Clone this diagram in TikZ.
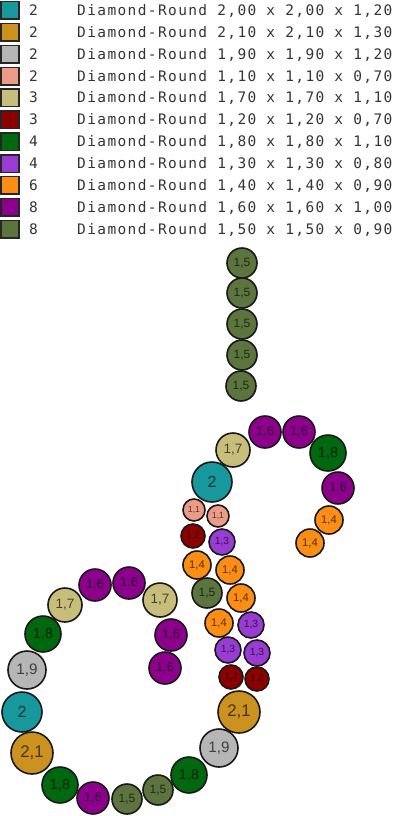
\documentclass[tikz,border=0pt]{standalone}
\usepackage{fontspec}
\usepackage{tikz}
\setmainfont{Liberation Sans}
\newfontfamily\legendfont[LetterSpace=9.5]{DejaVu Sans Mono}

\definecolor{tealc}{RGB}{22,152,156}
\definecolor{goldc}{RGB}{203,146,32}
\definecolor{greyc}{RGB}{182,182,182}
\definecolor{salmonc}{RGB}{236,156,134}
\definecolor{khakic}{RGB}{200,190,124}
\definecolor{maroonc}{RGB}{140,0,0}
\definecolor{greenc}{RGB}{0,104,14}
\definecolor{violetc}{RGB}{152,60,212}
\definecolor{orangec}{RGB}{252,142,22}
\definecolor{plumc}{RGB}{140,0,140}
\definecolor{olivec}{RGB}{92,116,62}
\definecolor{legendtext}{RGB}{52,52,52}

\tikzset{
  bead/.style={circle, draw=black!90, line width=1.6pt, inner sep=0pt, text opacity=0.65},
  s11/.style={bead, fill=salmonc, minimum size=22pt, font=\fontsize{8.8pt}{9pt}\selectfont},
  s12/.style={bead, fill=maroonc, minimum size=24pt, font=\fontsize{9.6pt}{10pt}\selectfont},
  s13/.style={bead, fill=violetc, minimum size=26pt, font=\fontsize{10.4pt}{11pt}\selectfont},
  s14/.style={bead, fill=orangec, minimum size=28pt, font=\fontsize{11.2pt}{12pt}\selectfont},
  s15/.style={bead, fill=olivec, minimum size=30pt, font=\fontsize{12pt}{13pt}\selectfont},
  s16/.style={bead, fill=plumc, minimum size=32pt, font=\fontsize{12.8pt}{13pt}\selectfont},
  s17/.style={bead, fill=khakic, minimum size=34pt, font=\fontsize{13.6pt}{14pt}\selectfont},
  s18/.style={bead, fill=greenc, minimum size=36pt, font=\fontsize{14.4pt}{15pt}\selectfont},
  s19/.style={bead, fill=greyc, minimum size=38pt, font=\fontsize{15.2pt}{16pt}\selectfont},
  s20/.style={bead, fill=tealc, minimum size=40pt, font=\fontsize{16pt}{17pt}\selectfont},
  s21/.style={bead, fill=goldc, minimum size=42pt, font=\fontsize{16.8pt}{17pt}\selectfont},
  swatch/.style={draw=black!85, line width=1.5pt, minimum width=18pt, minimum height=17.5pt, inner sep=0pt},
  count/.style={anchor=base west, inner sep=0pt, text=legendtext, font=\legendfont\fontsize{14.5pt}{16pt}\selectfont},
  entry/.style={anchor=base west, inner sep=0pt, text=legendtext, font=\legendfont\fontsize{14.5pt}{16pt}\selectfont}
}

\begin{document}
\begin{tikzpicture}[x=1pt, y=-1pt]
\useasboundingbox (0,0) rectangle (397,816);

% legend
\node (sw1) [swatch, fill=tealc] at (10,10.5) {};
\node (sw2) [swatch, fill=goldc] at (10,32.4) {};
\node (sw3) [swatch, fill=greyc] at (10,54.2) {};
\node (sw4) [swatch, fill=salmonc] at (10,76.1) {};
\node (sw5) [swatch, fill=khakic] at (10,97.9) {};
\node (sw6) [swatch, fill=maroonc] at (10,119.8) {};
\node (sw7) [swatch, fill=greenc] at (10,141.6) {};
\node (sw8) [swatch, fill=violetc] at (10,163.5) {};
\node (sw9) [swatch, fill=orangec] at (10,185.3) {};
\node (sw10) [swatch, fill=plumc] at (10,207.2) {};
\node (sw11) [swatch, fill=olivec] at (10,229) {};

\node (n1) [count] at (29,15.5) {2};
\node (n2) [count] at (29,37.4) {2};
\node (n3) [count] at (29,59.2) {2};
\node (n4) [count] at (29,81.1) {2};
\node (n5) [count] at (29,102.9) {3};
\node (n6) [count] at (29,124.8) {3};
\node (n7) [count] at (29,146.6) {4};
\node (n8) [count] at (29,168.5) {4};
\node (n9) [count] at (29,190.3) {6};
\node (n10) [count] at (29,212.2) {8};
\node (n11) [count] at (29,234) {8};

\node (e1) [entry] at (77,15.5) {Diamond-Round 2,00 x 2,00 x 1,20};
\node (e2) [entry] at (77,37.4) {Diamond-Round 2,10 x 2,10 x 1,30};
\node (e3) [entry] at (77,59.2) {Diamond-Round 1,90 x 1,90 x 1,20};
\node (e4) [entry] at (77,81.1) {Diamond-Round 1,10 x 1,10 x 0,70};
\node (e5) [entry] at (77,102.9) {Diamond-Round 1,70 x 1,70 x 1,10};
\node (e6) [entry] at (77,124.8) {Diamond-Round 1,20 x 1,20 x 0,70};
\node (e7) [entry] at (77,146.6) {Diamond-Round 1,80 x 1,80 x 1,10};
\node (e8) [entry] at (77,168.5) {Diamond-Round 1,30 x 1,30 x 0,80};
\node (e9) [entry] at (77,190.3) {Diamond-Round 1,40 x 1,40 x 0,90};
\node (e10) [entry] at (77,212.2) {Diamond-Round 1,60 x 1,60 x 1,00};
\node (e11) [entry] at (77,234) {Diamond-Round 1,50 x 1,50 x 0,90};

% stem
\node (stem1) [s15] at (242,263) {1,5};
\node (stem2) [s15] at (242,293) {1,5};
\node (stem3) [s15] at (242,324) {1,5};
\node (stem4) [s15] at (242,355) {1,5};
\node (stem5) [s15] at (241,386) {1,5};

% upper loop
\node (up1) [s16] at (265,432) {1,6};
\node (up2) [s16] at (299,432) {1,6};
\node (up3) [s18] at (328,453) {1,8};
\node (up4) [s16] at (338,488) {1,6};
\node (up5) [s14] at (329,520) {1,4};
\node (up6) [s14] at (310,543) {1,4};
\node (up7) [s17] at (233,450) {1,7};
\node (up8) [s20] at (212,482) {2};

% middle strand
\node (mid1) [s11] at (194,510) {1,1};
\node (mid2) [s11] at (218,516) {1,1};
\node (mid3) [s12] at (193,536) {1,2};
\node (mid4) [s13] at (222,542) {1,3};
\node (mid5) [s14] at (197,565) {1,4};
\node (mid6) [s14] at (230,570) {1,4};
\node (mid7) [s15] at (207,593) {1,5};
\node (mid8) [s14] at (241,598) {1,4};
\node (mid9) [s14] at (219,623) {1,4};
\node (mid10) [s13] at (251,625) {1,3};
\node (mid11) [s13] at (228,650) {1,3};
\node (mid12) [s13] at (257,653) {1,3};
\node (mid13) [s12] at (231,677) {1,2};
\node (mid14) [s12] at (257,679) {1,2};

% lower loop
\node (low1) [s16] at (95,585) {1,6};
\node (low2) [s16] at (129,583) {1,6};
\node (low3) [s17] at (65,605) {1,7};
\node (low4) [s17] at (160,600) {1,7};
\node (low5) [s18] at (43,634) {1,8};
\node (low6) [s16] at (171,635) {1,6};
\node (low7) [s19] at (27,670) {1,9};
\node (low8) [s16] at (165,668) {1,6};
\node (low9) [s20] at (22,712) {2};
\node (low10) [s21] at (32,753) {2,1};
\node (low11) [s18] at (60,785) {1,8};
\node (low12) [s16] at (93,798) {1,6};
\node (low13) [s15] at (127,799) {1,5};
\node (low14) [s15] at (158,790) {1,5};
\node (low15) [s18] at (189,775) {1,8};
\node (low16) [s19] at (219,748) {1,9};
\node (low17) [s21] at (239,712) {2,1};
\end{tikzpicture}
\end{document}
